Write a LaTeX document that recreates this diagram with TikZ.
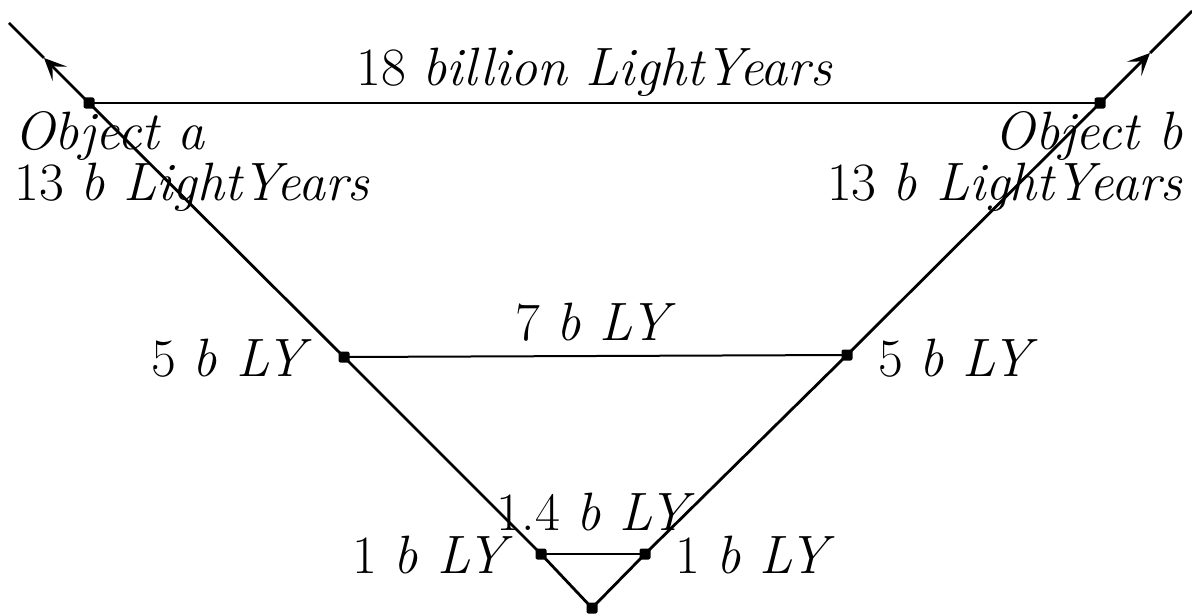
\documentclass[tikz,border=0pt]{standalone}
\usepackage{tikz}
\usetikzlibrary{positioning,arrows.meta,calc}

\begin{document}
\begin{tikzpicture}[
    x=0.5pt, y=-0.5pt,
    font=\fontsize{27}{32}\selectfont,
    dot/.style  = {rectangle, rounded corners=1pt, fill=black, inner sep=0pt,
                   minimum size=5.5pt},
    arm/.style  = {line width=1.4pt, draw=black},
    span/.style = {line width=1pt, draw=black},
    tip/.style  = {arm, -{Stealth[length=11pt,width=10pt,inset=5pt]}},
    lbl/.style  = {inner sep=0pt},
    obj/.style  = {lbl, font=\fontsize{27}{21.5}\selectfont},
]
\useasboundingbox (0,0) rectangle (1192,615);

%============================ POINTS ================================
\coordinate (O)   at (592,608);
\coordinate (a1)  at (541,554);
\coordinate (b1)  at (645,554);
\coordinate (a5)  at (344,357);
\coordinate (b5)  at (847,355);
\coordinate (aO)  at (89,103);
\coordinate (bO)  at (1100,103);
\coordinate (aTip) at (44,58);
\coordinate (bTip) at (1150,53);
\coordinate (aEnd) at (9,23);
\coordinate (bEnd) at (1192,11);

%============================ WORLD LINES ===========================
\draw[arm] (O) -- (a1) -- (a5) -- (aO);
\draw[arm] (O) -- (b1) -- (b5) -- (bO);
\draw[tip] (aO) -- (aTip);
\draw[arm] (aTip) -- (aEnd);
\draw[tip] (bO) -- (bTip);
\draw[arm] (bTip) -- (bEnd);

%============================ SPANS =================================
\draw[span] (a1) -- (b1);
\draw[span] (a5) -- (b5);
\draw[span] (aO) -- (bO);

\foreach \p in {O,a1,b1,a5,b5,aO,bO}
    \node[dot] (d\p) at (\p) {};

%============================ LABELS ================================
\node[lbl, anchor=base] (lTop) at ([yshift=9pt]$(aO)!0.5!(bO)$)
      {18 \textit{billion LightYears}};
\node[obj, anchor=base west, align=left] (lObjA) at (14,200)
      {\textit{Object a}\\13 \textit{b LightYears}};
\node[obj, anchor=base east, align=right] (lObjB) at (1183,200)
      {\textit{Object b}\\13 \textit{b LightYears}};

\node[lbl, anchor=base] (lMid) at ([yshift=8pt]$(a5)!0.5!(b5)$) {7 \textit{b LY}};
\node[lbl, anchor=base east] (lA5) at (312,376) {5 \textit{b LY}};
\node[lbl, anchor=base west] (lB5) at (878,376) {5 \textit{b LY}};

\node[lbl, anchor=base] (lLow) at (596,530) {1.4 \textit{b LY}};
\node[lbl, anchor=base east] (lA1) at (513,573) {1 \textit{b LY}};
\node[lbl, anchor=base west] (lB1) at (675,573) {1 \textit{b LY}};

\end{tikzpicture}
\end{document}
